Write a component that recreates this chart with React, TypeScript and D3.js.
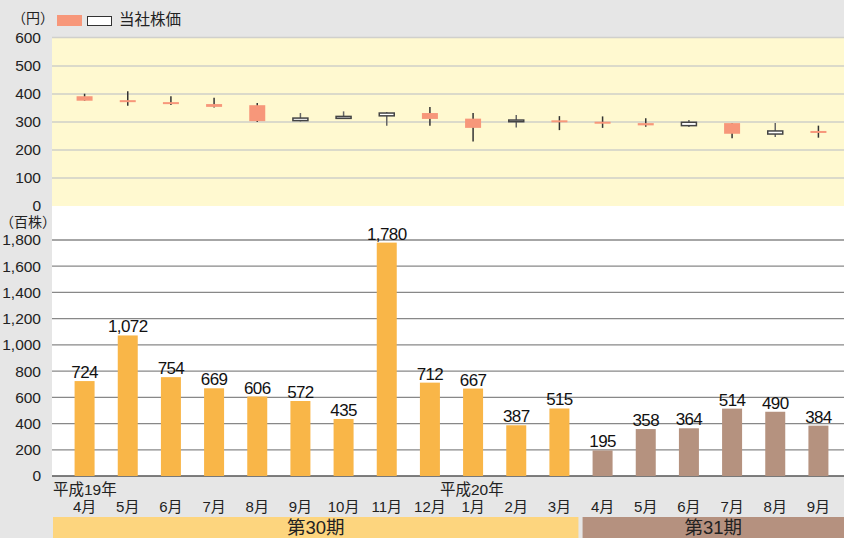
import React from "react";
import * as d3 from "d3";

// months and period (期) of each bar
const months = ["4月", "5月", "6月", "7月", "8月", "9月", "10月", "11月", "12月", "1月", "2月", "3月", "4月", "5月", "6月", "7月", "8月", "9月"];
const period = [30, 30, 30, 30, 30, 30, 30, 30, 30, 30, 30, 30, 31, 31, 31, 31, 31, 31];

// 出来高 (百株)
const volume = [724, 1072, 754, 669, 606, 572, 435, 1780, 712, 667, 387, 515, 195, 358, 364, 514, 490, 384];

// 株価 (円): open / high / low / close
const openP = [392, 378, 371, 364, 360, 305, 313, 322, 332, 312, 301, 306, 301, 296, 287, 296, 257, 268];
const highP = [401, 410, 392, 387, 368, 332, 338, 336, 354, 332, 325, 321, 320, 313, 307, 296, 296, 287];
const lowP = [376, 358, 361, 352, 300, 302, 311, 287, 287, 230, 280, 271, 279, 283, 282, 242, 246, 244];
const closeP = [376, 373, 365, 354, 303, 314, 320, 332, 311, 279, 307, 302, 295, 288, 299, 258, 268, 262];

const priceTicks = [0, 100, 200, 300, 400, 500, 600];
const volumeTicks = [0, 200, 400, 600, 800, 1000, 1200, 1400, 1600, 1800];

const W = 844;
const H = 538;
const font = "'Liberation Sans', Arial, 'Noto Sans CJK JP', sans-serif";

export default function App() {
  const idx = months.map((_, i) => String(i));
  const x = d3.scaleBand<string>().domain(idx).range([63, 840]);
  const yP = d3.scaleLinear().domain([0, 600]).range([206, 38]);
  const yV = d3.scaleLinear().domain([0, 1800]).range([476, 240]);
  const fmt = d3.format(",");
  const cx = (i: number) => (x(String(i)) as number) + x.bandwidth() / 2;

  const p30 = idx.filter((_, i) => period[i] === 30).map(Number);
  const p31 = idx.filter((_, i) => period[i] === 31).map(Number);
  const end30 = cx(p30[p30.length - 1]) + 19;
  const start31 = cx(p31[0]) - 20;

  return (
    <svg width={W} height={H} style={{ position: "absolute", left: 0, top: 0 }} fontFamily={font}>
      <rect x={0} y={0} width={W} height={H} fill="#e6e6e6" />

      {/* price panel */}
      <rect x={52} y={yP(600)} width={W - 52} height={yP(0) - yP(600)} fill="#fff9d0" />
      <line x1={52} x2={W} y1={yP(600) - 0.5} y2={yP(600) - 0.5} stroke="#d0d0cc" strokeWidth={1.5} />
      {priceTicks.map((t) => (
        <g key={"p" + t}>
          {t > 0 && t < 600 && <line x1={52} x2={W} y1={yP(t)} y2={yP(t)} stroke="#cfcfc8" strokeWidth={1.5} />}
          <text x={41} y={yP(t)} dy="0.35em" textAnchor="end" fontSize={15.5} fill="#222">{t}</text>
        </g>
      ))}
      <text x={12} y={18} dy="0.35em" fontSize={14} fill="#222">（円）</text>

      {/* legend */}
      <rect x={57} y={15} width={25} height={11} fill="#f7977a" />
      <rect x={87.5} y={16.5} width={24} height={9} fill="#fff" stroke="#333" strokeWidth={1} />
      <text x={119} y={20} dy="0.35em" fontSize={15.5} fill="#222">当社株価</text>

      {/* candles */}
      {months.map((_, i) => {
        const up = closeP[i] >= openP[i];
        const top = yP(Math.max(openP[i], closeP[i]));
        const bot = yP(Math.min(openP[i], closeP[i]));
        const c = cx(i);
        return (
          <g key={"c" + i}>
            <line x1={c} x2={c} y1={yP(highP[i])} y2={yP(lowP[i])} stroke={up ? "#666" : "#333"} strokeWidth={1.5} />
            {up ? (
              <rect x={c - 7.5} y={top} width={15} height={Math.max(bot - top, 1.5)} fill="#fff" stroke="#444" strokeWidth={1.5} />
            ) : (
              <rect x={c - 8} y={top} width={16} height={Math.max(bot - top, 2)} fill="#f7977a" />
            )}
          </g>
        );
      })}

      {/* volume panel */}
      <rect x={52} y={206} width={W - 52} height={yV(0) - 206} fill="#fff" />
      {volumeTicks.map((t) => (
        <g key={"v" + t}>
          <line x1={52} x2={W} y1={yV(t)} y2={yV(t)} stroke={t === 0 ? "#555" : "#888"} strokeWidth={t === 0 ? 1.5 : 1.3} />
          <text x={41} y={yV(t)} dy="0.35em" textAnchor="end" fontSize={15.5} fill="#222">{fmt(t)}</text>
        </g>
      ))}
      <text x={0} y={222} dy="0.35em" fontSize={14} fill="#222">（百株）</text>

      {volume.map((v, i) => (
        <g key={"b" + i}>
          <rect x={cx(i) - 10} y={yV(v)} width={20} height={yV(0) - yV(v)} fill={period[i] === 30 ? "#f9b648" : "#b5927f"} />
          <text x={cx(i)} y={yV(v) - 3} textAnchor="middle" fontSize={17} letterSpacing={-0.6} fill="#111">{fmt(v)}</text>
        </g>
      ))}

      {/* month labels */}
      {months.map((m, i) => (
        <text key={"m" + i} x={cx(i)} y={507} dy="0.35em" textAnchor="middle" fontSize={15} fill="#222">{m}</text>
      ))}
      <text x={53} y={490} dy="0.35em" fontSize={15.5} fill="#222">平成19年</text>
      <text x={440} y={490} dy="0.35em" fontSize={15.5} fill="#222">平成20年</text>

      {/* period bands */}
      <rect x={53} y={517} width={end30 - 53} height={H - 517} fill="#fdd57e" />
      <text x={(53 + end30) / 2} y={528} dy="0.35em" textAnchor="middle" fontSize={18.5} fill="#222">第30期</text>
      <rect x={start31} y={517} width={W - start31} height={H - 517} fill="#b5917f" />
      <text x={(start31 + W) / 2} y={528} dy="0.35em" textAnchor="middle" fontSize={18.5} fill="#222">第31期</text>
    </svg>
  );
}
